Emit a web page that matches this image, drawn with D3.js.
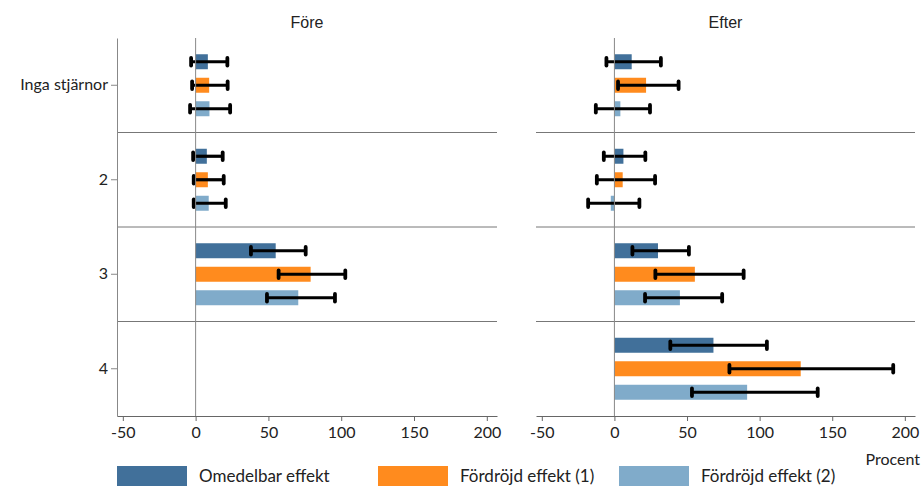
<!DOCTYPE html>
<html>
<head>
<meta charset="utf-8">
<script src="https://cdn.jsdelivr.net/npm/d3@7"></script>
<style>
  body { margin: 0; background: #fff; }
  svg { display: block; }
  text { font-family: Lato, "Noto Sans", sans-serif; fill: #222; }
</style>
</head>
<body>
<svg id="chart" width="921" height="486"></svg>
<script>
// Star-rating categories (rows) and effect series (bars within each row)
const categories = ["Inga stjärnor", "2", "3", "4"];
const seriesNames = ["Omedelbar effekt", "Fördröjd effekt (1)", "Fördröjd effekt (2)"];
const seriesColors = ["#41709a", "#ff8b1e", "#80abca"];
const panelTitles = ["Före", "Efter"];
const xTicks = [-50, 0, 50, 100, 150, 200];

// Före: point estimates and confidence intervals per category, per series
const foreValues = [
  [8.4, 9.3, 9.5],
  [7.7, 8.4, 9.0],
  [55, 79, 70.5],
  [null, null, null]
];
const foreLow = [
  [-3.1, -2.4, -3.8],
  [-1.7, -1.3, -1.3],
  [38, 57, 49],
  [null, null, null]
];
const foreHigh = [
  [21.8, 22, 23.7],
  [18.6, 19.3, 20.7],
  [75.6, 102.8, 95.7],
  [null, null, null]
];

// Efter
const efterValues = [
  [11.9, 21.8, 4.1],
  [6.2, 5.7, -2.5],
  [30, 55.4, 45.1],
  [68.2, 128.3, 91.4]
];
const efterLow = [
  [-5.5, 2.5, -12.8],
  [-7.3, -12.1, -18.1],
  [12.4, 28.2, 21.1],
  [38.5, 79.2, 53.4]
];
const efterHigh = [
  [32, 44.2, 24.5],
  [21.3, 28, 17.2],
  [51.3, 89, 74.2],
  [105, 192, 140]
];

const svg = d3.select("#chart");
const plotTop = 38, plotBottom = 416;

const y = d3.scaleBand().domain(categories).range([plotTop, plotBottom]).padding(0);
const yInner = d3.scaleBand().domain(seriesNames)
  .range([12, y.bandwidth() - 12])
  .paddingInner(0.362).paddingOuter(0.181);
const color = d3.scaleOrdinal().domain(seriesNames).range(seriesColors);

const panels = [
  { title: panelTitles[0], range: [117, 497], vals: foreValues, lo: foreLow, hi: foreHigh, leftAxis: true },
  { title: panelTitles[1], range: [536, 915], vals: efterValues, lo: efterLow, hi: efterHigh, leftAxis: false }
];

panels.forEach(p => {
  const x = d3.scaleLinear().domain([-54, 207]).range(p.range);
  const g = svg.append("g");

  // Title
  g.append("text")
    .attr("x", (p.range[0] + p.range[1]) / 2)
    .attr("y", 28)
    .attr("text-anchor", "middle")
    .style("font-family", "'Liberation Sans', Arial, sans-serif")
    .style("font-size", "16px")
    .text(p.title);

  // Row separators
  g.selectAll("line.sep").data(categories.slice(1)).join("line")
    .attr("class", "sep")
    .attr("x1", p.range[0]).attr("x2", p.range[1])
    .attr("y1", d => y(d)).attr("y2", d => y(d))
    .attr("stroke", "#777").attr("stroke-width", 1);

  // Rows of bars
  categories.forEach((cat, ci) => {
    const rows = seriesNames.map((s, si) => ({
      s, v: p.vals[ci][si], lo: p.lo[ci][si], hi: p.hi[ci][si]
    })).filter(d => d.v !== null);

    const rg = g.append("g").attr("transform", `translate(0,${y(cat)})`);
    rg.selectAll("rect").data(rows).join("rect")
      .attr("x", d => x(Math.min(0, d.v)))
      .attr("width", d => Math.abs(x(d.v) - x(0)))
      .attr("y", d => yInner(d.s))
      .attr("height", yInner.bandwidth())
      .attr("fill", d => color(d.s));

    // Confidence intervals
    const eb = rg.selectAll("g.err").data(rows).join("g").attr("class", "err")
      .attr("transform", d => `translate(0,${yInner(d.s) + yInner.bandwidth() / 2})`);
    eb.append("line")
      .attr("x1", d => x(d.lo)).attr("x2", d => x(d.hi))
      .attr("stroke", "#000").attr("stroke-width", 3.2);
    ["lo", "hi"].forEach(k => {
      eb.append("line")
        .attr("x1", d => x(d[k])).attr("x2", d => x(d[k]))
        .attr("y1", -3.8).attr("y2", 3.8)
        .attr("stroke", "#000").attr("stroke-width", 3.8)
        .attr("stroke-linecap", "round");
    });
  });

  // Zero line
  g.append("line")
    .attr("x1", x(0)).attr("x2", x(0))
    .attr("y1", plotTop).attr("y2", plotBottom)
    .attr("stroke", "#888").attr("stroke-width", 1);

  // X axis
  const xa = g.append("g").attr("transform", `translate(0,${plotBottom})`)
    .call(d3.axisBottom(x).tickValues(xTicks).tickFormat(d => String(d))
      .tickSize(5).tickPadding(6).tickSizeOuter(0));
  xa.select(".domain").attr("stroke", "#666");
  xa.selectAll(".tick line").attr("stroke", "#666");
  xa.selectAll(".tick text").style("font-size", "16px").style("fill", "#222")
    .style("font-family", "Lato, sans-serif");

  // Left axis with category labels
  if (p.leftAxis) {
    const ya = g.append("g").attr("transform", `translate(${p.range[0]},0)`)
      .call(d3.axisLeft(y).tickSize(6).tickPadding(3).tickSizeOuter(0));
    ya.select(".domain").attr("stroke", "#888");
    ya.selectAll(".tick line").attr("stroke", "#888");
    ya.selectAll(".tick text").style("font-size", "16px").style("fill", "#222")
      .style("font-family", "Lato, sans-serif");
  }
});

// Unit label
svg.append("text")
  .attr("x", 920).attr("y", 465)
  .attr("text-anchor", "end")
  .style("font-size", "16px")
  .text("Procent");

// Legend
const legendX = [117, 378, 619];
const lg = svg.selectAll("g.legend").data(seriesNames).join("g")
  .attr("class", "legend")
  .attr("transform", (d, i) => `translate(${legendX[i]},466)`);
lg.append("rect").attr("width", 70).attr("height", 22).attr("fill", d => color(d));
lg.append("text").attr("x", 82).attr("y", 16).style("font-size", "17px").text(d => d);
</script>
</body>
</html>
